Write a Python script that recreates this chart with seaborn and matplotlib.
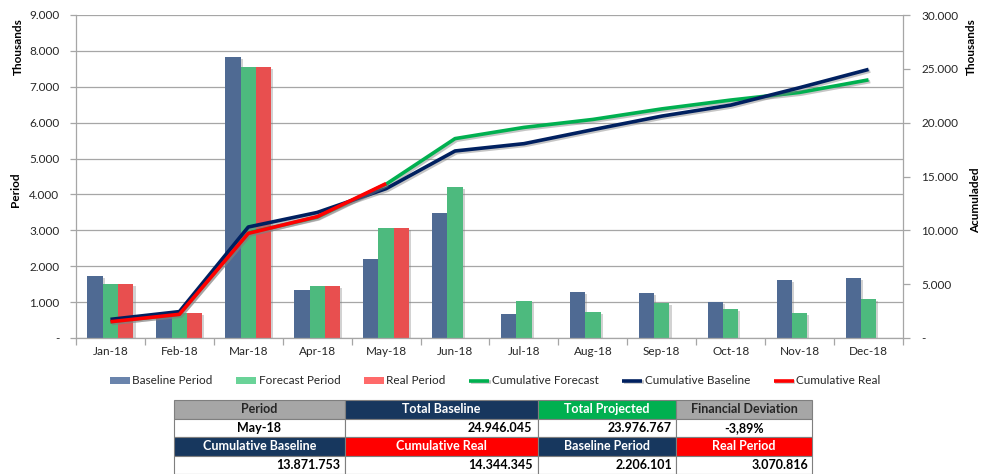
import numpy as np
import pandas as pd
import matplotlib
matplotlib.use("Agg")
import matplotlib.pyplot as plt
import matplotlib.patheffects as pe
from matplotlib.ticker import FuncFormatter, MultipleLocator, FixedLocator
import seaborn as sns

# ---------------- data ----------------
months = ['Jan-18', 'Feb-18', 'Mar-18', 'Apr-18', 'May-18', 'Jun-18',
          'Jul-18', 'Aug-18', 'Sep-18', 'Oct-18', 'Nov-18', 'Dec-18']
baseline_period = [1720, 710, 7830, 1340, 2206, 3490, 670, 1290, 1250, 1010, 1610, 1680]
forecast_period = [1510, 690, 7560, 1460, 3071, 4220, 1030, 730, 980, 810, 700, 1100]
real_period = [1510, 690, 7560, 1460, 3071, np.nan, np.nan, np.nan, np.nan, np.nan, np.nan, np.nan]
cum_forecast = [1510, 2200, 9760, 11220, 14290, 18520, 19560, 20300, 21280, 22100, 22810, 23977]
cum_baseline = [1730, 2450, 10310, 11660, 13872, 17370, 18050, 19350, 20610, 21630, 23250, 24946]
cum_real = [1510, 2200, 9720, 11270, 14344, np.nan, np.nan, np.nan, np.nan, np.nan, np.nan, np.nan]

bar_series = ['Baseline Period', 'Forecast Period', 'Real Period']
line_series = ['Cumulative Forecast', 'Cumulative Baseline', 'Cumulative Real']

table_text = [
    ['Period', 'Total Baseline', 'Total Projected', 'Financial Deviation'],
    ['May-18', '24.946.045', '23.976.767', '-3,89%'],
    ['Cumulative Baseline', 'Cumulative Real', 'Baseline Period', 'Real Period'],
    ['13.871.753', '14.344.345', '2.206.101', '3.070.816'],
]

# ---------------- style ----------------
sns.set_theme(style="white")
plt.rcParams['font.family'] = ['Lato', 'DejaVu Sans']

bar_colors = {'Baseline Period': '#4F6A93', 'Forecast Period': '#4DBA7E', 'Real Period': '#E84F4F'}
legend_bar_colors = ['#6A84AC', '#6AD398', '#FF6A6A']
line_colors = {'Cumulative Forecast': '#00B050', 'Cumulative Baseline': '#002060', 'Cumulative Real': '#FF0000'}
grid_c = '#A6A6A6'
txt_c = '#262626'

W, H = 981, 474
fig = plt.figure(figsize=(W / 100, H / 100), dpi=100)
ax = fig.add_axes([76 / W, 1 - 338 / H, (903 - 76) / W, (338 - 15) / H])

bars_df = pd.DataFrame({
    'month': np.repeat(months, 3),
    'series': bar_series * len(months),
    'value': np.ravel(np.column_stack([baseline_period, forecast_period, real_period])),
})

sns.barplot(data=bars_df, x='month', y='value', hue='series', hue_order=bar_series,
            palette=bar_colors, width=0.667, dodge=True, saturation=1,
            linewidth=0, ax=ax, legend=True)
for p in ax.patches:
    p.set_path_effects([pe.SimplePatchShadow(offset=(1.5, -1.5), shadow_rgbFace='#808080', alpha=0.35),
                        pe.Normal()])

ax.set_xlim(-0.5, len(months) - 0.5)
ax.set_ylim(0, 9000)
ax.yaxis.set_major_locator(MultipleLocator(1000))
ax.yaxis.set_major_formatter(FuncFormatter(lambda v, p: '-' if v == 0 else f"{v:,.0f}".replace(',', '.')))
ax.set_axisbelow(True)
ax.grid(axis='y', color=grid_c, lw=0.9)
ax.grid(axis='x', visible=False)
ax.set_xlabel('')
ax.set_ylabel('')
for s in ['top', 'right']:
    ax.spines[s].set_visible(False)
for s in ['left', 'bottom']:
    ax.spines[s].set_color(grid_c)
    ax.spines[s].set_linewidth(0.9)
ax.tick_params(axis='y', which='major', length=4, width=0.9, color=grid_c, pad=8,
               labelsize=8.5, labelcolor=txt_c, left=True)
ax.tick_params(axis='x', which='major', length=0, pad=6, labelsize=8.5, labelcolor=txt_c)
ax.xaxis.set_minor_locator(FixedLocator(np.arange(-0.5, len(months), 1.0)))
ax.tick_params(axis='x', which='minor', length=5, width=0.9, color=grid_c, bottom=True)

bar_handles, bar_labels = ax.get_legend_handles_labels()
if ax.get_legend() is not None:
    ax.get_legend().remove()

# ---------------- cumulative lines ----------------
ax2 = ax.twinx()
pos = list(range(len(months)))
lines_df = pd.DataFrame({
    'pos': pos * 3,
    'series': np.repeat(line_series, len(months)),
    'value': cum_forecast + cum_baseline + cum_real,
})
sns.lineplot(data=lines_df, x='pos', y='value', hue='series', hue_order=line_series,
             palette=line_colors, lw=2.6, ax=ax2, legend=True, sort=False)
for ln in ax2.lines:
    ln.set_path_effects([pe.SimpleLineShadow(offset=(1.2, -1.2), shadow_color='#808080', alpha=0.45),
                         pe.Normal()])
    ln.set_solid_capstyle('butt')
ax2.set_ylim(0, 30000)
ax2.set_xlim(-0.5, len(months) - 0.5)
ax2.yaxis.set_major_locator(MultipleLocator(5000))
ax2.yaxis.set_major_formatter(FuncFormatter(lambda v, p: '-' if v == 0 else f"{v:,.0f}".replace(',', '.')))
ax2.set_ylabel('')
ax2.set_xlabel('')
ax2.grid(False)
for s in ['top', 'left', 'bottom']:
    ax2.spines[s].set_visible(False)
ax2.spines['right'].set_color(grid_c)
ax2.spines['right'].set_linewidth(0.9)
ax2.tick_params(axis='y', length=5, width=0.9, color=grid_c, pad=8, labelsize=8.5,
                labelcolor=txt_c, right=True)
line_handles, line_labels = ax2.get_legend_handles_labels()
if ax2.get_legend() is not None:
    ax2.get_legend().remove()

# ---------------- axis titles ----------------
fig.text(18 / W, 1 - 47 / H, 'Thousands', rotation=90, ha='center', va='center',
         fontsize=8.5, fontweight='bold', color='black')
fig.text(15 / W, 1 - 190 / H, 'Period', rotation=90, ha='center', va='center',
         fontsize=8.5, fontweight='bold', color='black')
fig.text(971 / W, 1 - 47 / H, 'Thousands', rotation=90, ha='center', va='center',
         fontsize=8.5, fontweight='bold', color='black')
fig.text(976 / W, 1 - 200 / H, 'Acumuladed', rotation=90, ha='center', va='center',
         fontsize=8.5, fontweight='bold', color='black')

# ---------------- legend ----------------
leg = fig.legend(bar_handles + line_handles, bar_labels + line_labels,
                 loc='center', bbox_to_anchor=(495 / W, 1 - 381 / H), ncol=6, frameon=False,
                 fontsize=8.5, handlelength=1.7, handletextpad=0.2, columnspacing=2.0,
                 handleheight=0.5, labelcolor=txt_c)
for h, c in zip(leg.legend_handles[:3], legend_bar_colors):
    h.set_facecolor(c)
    h.set_path_effects([])

# ---------------- table ----------------
tax = fig.add_axes([174 / W, 0, (812 - 174) / W, (474 - 400) / H])
tax.axis('off')
navy, green, red, gray = '#17375E', '#00B050', '#FF0000', '#A6A6A6'
cell_colors = [
    [gray, navy, green, gray],
    ['white'] * 4,
    [navy, red, navy, red],
    ['white'] * 4,
]
text_colors = [
    [txt_c, 'white', 'white', txt_c],
    ['black'] * 4,
    ['white'] * 4,
    ['black'] * 4,
]
aligns = [
    ['center'] * 4,
    ['center', 'right', 'right', 'center'],
    ['center'] * 4,
    ['right'] * 4,
]
col_w = np.array([171, 193, 138, 136], dtype=float)
col_w = col_w / col_w.sum()
tbl = tax.table(cellText=table_text, cellColours=cell_colors, colWidths=list(col_w),
                bbox=[0, 0, 1, 1], cellLoc='center')
tbl.auto_set_font_size(False)
for (r, c), cell in tbl.get_celld().items():
    cell.set_edgecolor('#7F7F7F')
    cell.set_linewidth(0.8)
    cell.PAD = 0.03
    cell._loc = aligns[r][c]
    cell.get_text().set_ha(aligns[r][c])
    cell.get_text().set_fontsize(9)
    cell.get_text().set_fontweight('bold')
    cell.get_text().set_color(text_colors[r][c])

fig.savefig('out.png', dpi=100)
